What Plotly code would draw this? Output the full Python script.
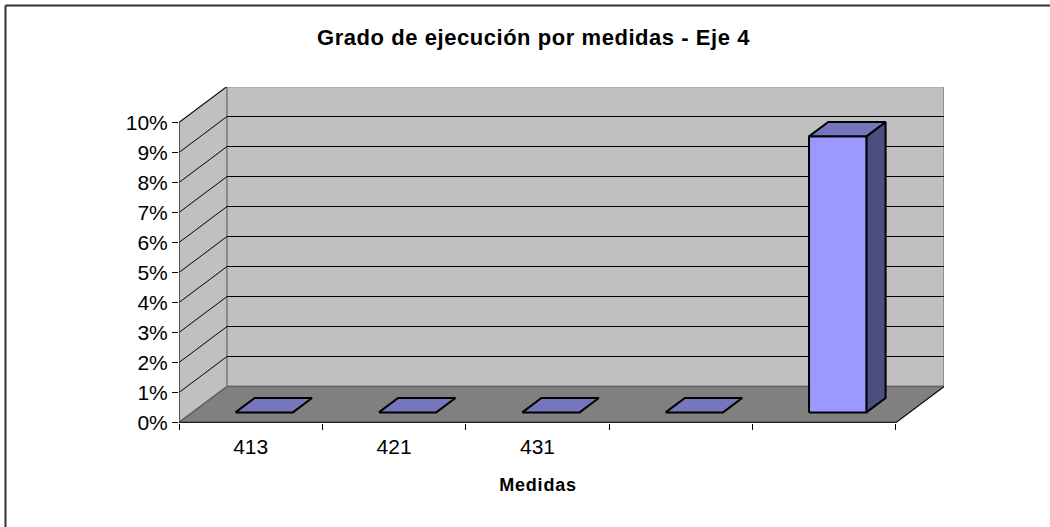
import plotly.graph_objects as go

title = "Grado de ejecución por medidas - Eje 4"
x_title = "Medidas"
categories = ["413", "421", "431", "", ""]
values = [0, 0, 0, 0, 9.2]
y_ticks = [0, 1, 2, 3, 4, 5, 6, 7, 8, 9, 10]

W, H = 1050, 527
L, R, T, B = 179, 106, 87, 104
DX = 48 / 143.2   # depth shift in category units
DY = 36 / 30.0    # depth shift in percent units
n = len(categories)
ymax = y_ticks[-1]
half = 0.2
d0, d1 = 0.28, 0.68

def P(x, v, d):
    return x + d * DX, v + d * DY

fig = go.Figure()

def poly(pts, fill, line, lw=1):
    xs = [p[0] for p in pts] + [pts[0][0]]
    ys = [p[1] for p in pts] + [pts[0][1]]
    fig.add_trace(go.Scatter(x=xs, y=ys, mode="lines", fill="toself", fillcolor=fill,
                             line=dict(color=line, width=lw), hoverinfo="skip",
                             showlegend=False, cliponaxis=False))

def seg(pts, color, lw=1):
    fig.add_trace(go.Scatter(x=[p[0] for p in pts], y=[p[1] for p in pts], mode="lines",
                             line=dict(color=color, width=lw), hoverinfo="skip",
                             showlegend=False, cliponaxis=False))

WALL, FLOOR, EDGE = "#C0C0C0", "#808080", "#808080"
poly([P(0, 0, 0), P(0, ymax, 0), P(0, ymax, 1), P(0, 0, 1)], WALL, EDGE, 1.5)
poly([P(0, 0, 1), P(0, ymax, 1), P(n, ymax, 1), P(n, 0, 1)], WALL, EDGE, 1.5)
poly([P(0, 0, 0), P(n, 0, 0), P(n, 0, 1), P(0, 0, 1)], FLOOR, "#606060", 1.5)
seg([P(n, 0, 0), P(n, 0, 1)], "#000000", 1)

for t in y_ticks[1:]:
    seg([P(0, t, 0), P(0, t, 1), P(n, t, 1)], "#000000", 1)

seg([P(0, 0, 0), P(0, ymax, 0)], "#404040", 1.5)
seg([P(0, 0, 0), P(n, 0, 0)], "#202020", 1.5)

for i, v in enumerate(values):
    c = i + 0.5
    a, b = c - half, c + half
    if v > 0:
        poly([P(b, 0, d0), P(b, 0, d1), P(b, v, d1), P(b, v, d0)], "#4D4D80", "#000000", 2)
        poly([P(a, v, d0), P(b, v, d0), P(b, v, d1), P(a, v, d1)], "#7676BD", "#000000", 2)
        poly([P(a, 0, d0), P(b, 0, d0), P(b, v, d0), P(a, v, d0)], "#9999FF", "#000000", 2)
    else:
        poly([P(a, 0, d0), P(b, 0, d0), P(b, 0, d1), P(a, 0, d1)], "#7676BD", "#000000", 2)

plot_w, plot_h = W - L - R, H - T - B
px = lambda v: (v - L) / plot_w
py = lambda v: (H - B - v) / plot_h
eps = 1 / 60
fig.update_layout(
    width=W, height=H, autosize=False,
    margin=dict(l=L, r=R, t=T, b=B, pad=0),
    paper_bgcolor="white", plot_bgcolor="white", showlegend=False,
    font=dict(family="Liberation Sans, Arial, sans-serif", color="#000000"),
    title=dict(text=f"<b>{title}</b>", x=533.5 / W, xanchor="center", y=1 - 37 / H, yanchor="middle",
               font=dict(size=22)),
    xaxis=dict(range=[0, n + DX], showgrid=False, zeroline=False, showline=False,
               tickmode="array", tickvals=[i + 0.5 for i in range(n)], ticktext=categories,
               ticks="", tickfont=dict(size=21), ticklabelstandoff=9,
               minor=dict(ticks="outside", ticklen=6, tickcolor="#000000", tick0=0, dtick=1, showgrid=False)),
    yaxis=dict(range=[-eps, ymax + DY - eps], showgrid=False, zeroline=False, showline=False,
               tickmode="array", tickvals=y_ticks, ticktext=[f"{t}%" for t in y_ticks],
               ticks="outside", ticklen=6, tickcolor="#000000", tickfont=dict(size=21)),
    annotations=[dict(text=f"<b>{x_title}</b>", xref="paper", yref="paper", x=px(537.5), y=py(485),
                      xanchor="center", yanchor="middle", showarrow=False, font=dict(size=18))],
    shapes=[
        dict(type="line", xref="paper", yref="paper", x0=px(5.5), x1=px(W), y0=py(5.5), y1=py(5.5),
             line=dict(color="#303030", width=2), layer="below"),
        dict(type="line", xref="paper", yref="paper", x0=px(5.5), x1=px(5.5), y0=py(H), y1=py(5.5),
             line=dict(color="#303030", width=2), layer="below"),
    ],
)

fig.write_html("out.html", config={"displayModeBar": False},
               post_script="document.body.style.margin='0';document.documentElement.style.overflow='hidden';"
                           "document.querySelector('.gtitle').style.letterSpacing='0.55px';"
                           "document.querySelector('.annotation-text').style.letterSpacing='0.8px';")
